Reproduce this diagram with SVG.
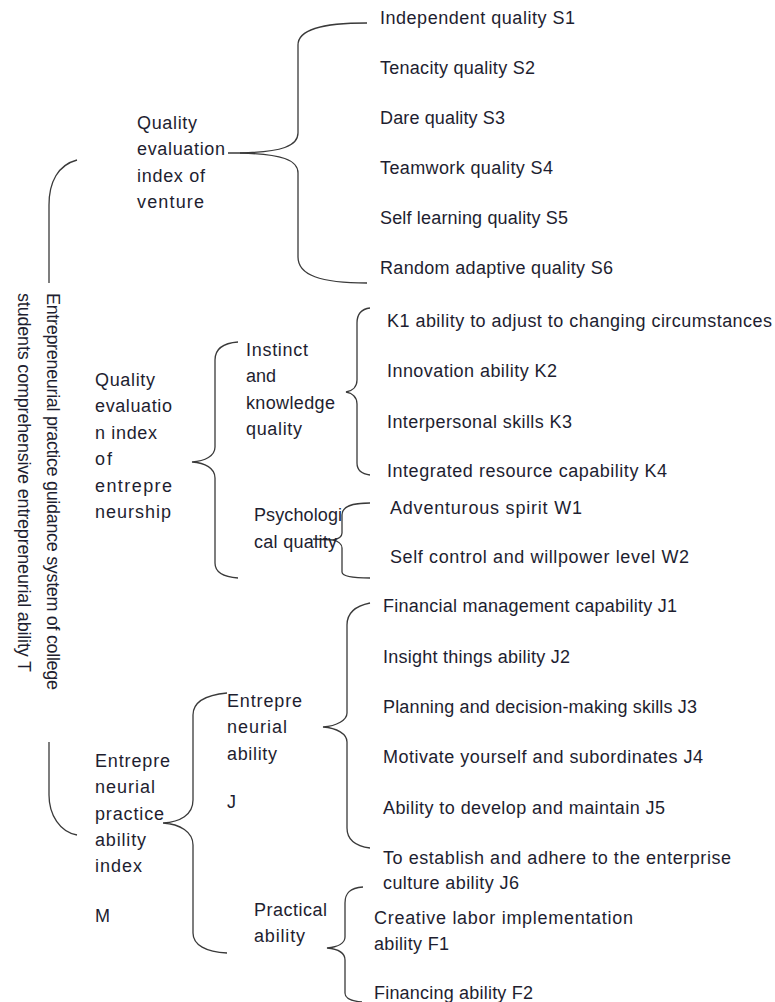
<svg xmlns="http://www.w3.org/2000/svg" width="775" height="1002" viewBox="0 0 775 1002">
<style>
text{font-family:"Liberation Sans",Arial,sans-serif;font-size:18px;fill:#1e1e30}
.c path{fill:none;stroke:#3a3a3a;stroke-width:1.3}
</style>
<rect width="775" height="1002" fill="#fff"/>
<g class="c" id="connectors">
<path d="M77,160 C58,165 49,182 49,205 L49,283"/>
<path d="M49,742 L49,795 C49,815 60,832 77,835"/>
<path d="M367,23 C320,23 298,30 298,45 L298,133 C298,146 282,152 240,153 L228,153"/>
<path d="M240,153 C282,154 298,160 298,173 L298,257 C298,275 320,283 367,283"/>
<path d="M238,342 C224,343 215,348 215,360 L215,447 C215,456 205,461 192,462 C205,463 215,468 215,478 L215,563 C215,573 224,577 238,578"/>
<path d="M370,308 C362,309 357,314 357,323 L357,380 C357,387 352,391 346,392 C352,393 357,397 357,404 L357,463 C357,470 362,474 370,475"/>
<path d="M370,503 C352,503 342,506 342,515 L342,533 C342,537 338,539 333,540 C338,541 342,544 342,548 L342,572 C342,576 352,578 370,578"/>
<path d="M313,539 L333,540"/>
<path d="M370,603 C355,606 347,613 347,625 L347,713 C347,720 337,726 323,727 C337,728 347,734 347,742 L347,828 C347,840 355,846 370,848"/>
<path d="M227,693 C206,695 193,702 193,715 L193,800 C193,815 180,822 163,823 C180,824 193,832 193,845 L193,933 C193,945 206,952 227,953"/>
<path d="M363,887 C350,888 345,893 345,903 L345,937 C345,943 338,947 327,948 C338,949 345,953 345,960 L345,993 C345,998 350,1001 362,1002"/>
</g>
<g id="root">
<text transform="translate(47,293) rotate(90)" font-size="19" textLength="397">Entrepreneurial practice guidance system of college</text>
<text transform="translate(18,293) rotate(90)" font-size="19" textLength="379">students comprehensive entrepreneurial ability T</text>
</g>
<g id="venture">
<text x="137" y="129" textLength="60">Quality</text>
<text x="137" y="155" textLength="88">evaluation</text>
<text x="137" y="182" textLength="68">index of</text>
<text x="137" y="208" textLength="67">venture</text>
</g>
<g id="S-items">
<text x="380" y="24" textLength="195">Independent quality S1</text>
<text x="380" y="74" textLength="155">Tenacity quality S2</text>
<text x="380" y="124" textLength="125">Dare quality S3</text>
<text x="380" y="174" textLength="173">Teamwork quality S4</text>
<text x="380" y="224" textLength="188">Self learning quality S5</text>
<text x="380" y="274" textLength="233">Random adaptive quality S6</text>
</g>
<g id="entrepreneurship">
<text x="95" y="386" textLength="60">Quality</text>
<text x="95" y="412" textLength="77">evaluatio</text>
<text x="95" y="439" textLength="62">n index</text>
<text x="95" y="465" textLength="17">of</text>
<text x="95" y="492" textLength="77">entrepre</text>
<text x="95" y="518" textLength="76">neurship</text>
</g>
<g id="instinct">
<text x="246" y="356" textLength="62">Instinct</text>
<text x="246" y="382" textLength="30">and</text>
<text x="246" y="409" textLength="89">knowledge</text>
<text x="246" y="435" textLength="56">quality</text>
</g>
<g id="K-items">
<text x="387" y="327" textLength="385">K1 ability to adjust to changing circumstances</text>
<text x="387" y="377" textLength="170">Innovation ability K2</text>
<text x="387" y="428" textLength="185">Interpersonal skills K3</text>
<text x="387" y="477" textLength="280">Integrated resource capability K4</text>
</g>
<g id="psychological">
<text x="254" y="521" textLength="88">Psychologi</text>
<text x="254" y="548" textLength="83">cal quality</text>
</g>
<g id="W-items">
<text x="390" y="514" textLength="192">Adventurous spirit W1</text>
<text x="390" y="563" textLength="299">Self control and willpower level W2</text>
</g>
<g id="practice">
<text x="95" y="767" textLength="75">Entrepre</text>
<text x="95" y="793" textLength="60">neurial</text>
<text x="95" y="820" textLength="69">practice</text>
<text x="95" y="846" textLength="51">ability</text>
<text x="95" y="872" textLength="47">index</text>
<text x="95" y="922" textLength="16">M</text>
</g>
<g id="ent-ability">
<text x="227" y="707" textLength="75">Entrepre</text>
<text x="227" y="733" textLength="60">neurial</text>
<text x="227" y="760" textLength="50">ability</text>
<text x="227" y="808">J</text>
</g>
<g id="J-items">
<text x="383" y="612" textLength="294">Financial management capability J1</text>
<text x="383" y="663" textLength="187">Insight things ability J2</text>
<text x="383" y="713" textLength="314">Planning and decision-making skills J3</text>
<text x="383" y="763" textLength="320">Motivate yourself and subordinates J4</text>
<text x="383" y="814" textLength="282">Ability to develop and maintain J5</text>
<text x="383" y="864" textLength="348">To establish and adhere to the enterprise</text>
<text x="383" y="889" textLength="136">culture ability J6</text>
</g>
<g id="practical">
<text x="254" y="916" textLength="73">Practical</text>
<text x="254" y="942" textLength="51">ability</text>
</g>
<g id="F-items">
<text x="374" y="924" textLength="259">Creative labor implementation</text>
<text x="374" y="950" textLength="75">ability F1</text>
<text x="374" y="999" textLength="159">Financing ability F2</text>
</g>
</svg>
